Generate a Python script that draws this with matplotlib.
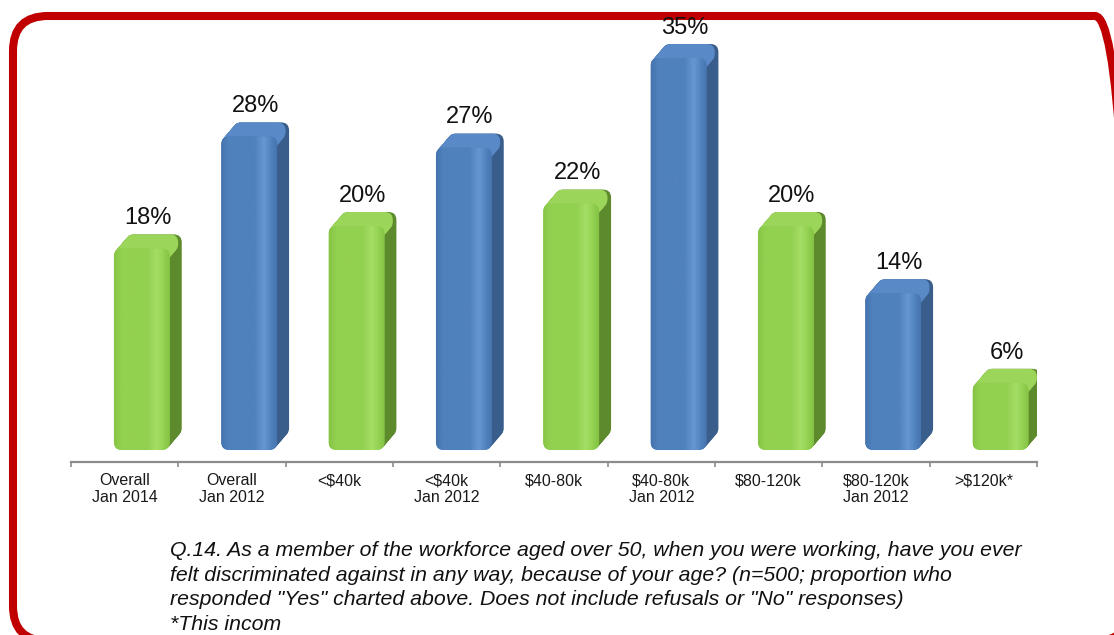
import numpy as np
import matplotlib.pyplot as plt
from matplotlib.patches import FancyBboxPatch
from matplotlib.transforms import IdentityTransform
from matplotlib.colors import to_rgb

plt.rcParams['font.family'] = ['Liberation Sans', 'DejaVu Sans']
plt.rcParams['text.parse_math'] = False

categories = ["Overall\nJan 2014", "Overall\nJan 2012", "<$40k", "<$40k\nJan 2012",
              "$40-80k", "$40-80k\nJan 2012", "$80-120k", "$80-120k\nJan 2012", ">$120k*"]
values = [18, 28, 20, 27, 22, 35, 20, 14, 6]
survey = ["2014", "2012", "2014", "2012", "2014", "2012", "2014", "2012", "2014"]

caption = ("Q.14. As a member of the workforce aged over 50, when you were working, have you ever\n"
           "felt discriminated against in any way, because of your age? (n=500; proportion who\n"
           "responded \"Yes\" charted above. Does not include refusals or \"No\" responses)\n"
           "*This incom")

# front colour stops (left -> right), side colour, top colour
palette = {
    "2014": (["#86C546", "#92D050", "#92D050", "#A5DF66", "#93D152", "#84C244"], "#5E8A2E", "#9BD65A"),
    "2012": (["#4674AE", "#4F81BD", "#4F81BD", "#6797D2", "#5083BF", "#4674AE"], "#3A5E8C", "#5989C6"),
}
stops = [0.0, 0.12, 0.6, 0.77, 0.9, 1.0]

W, H = 1114, 635
fig = plt.figure(figsize=(W / 100, H / 100), dpi=100)

# red rounded frame, in output pixels (origin bottom left)
frame = FancyBboxPatch((13, H - 641), 1117, 625, boxstyle="round,pad=0,rounding_size=35",
                       fc='none', ec='#C00000', lw=5.8, transform=IdentityTransform(), zorder=0)
fig.add_artist(frame)

ax = fig.add_axes([71 / W, 173 / H, 966 / W, 460 / H], zorder=1)
ax.patch.set_alpha(0)
ax.set_xlim(-0.5, len(categories) - 0.5)
ax.set_ylim(-1.07, 40)

xs = np.arange(len(categories))
bars = ax.bar(xs + 0.16, values, width=0.52, color='none', edgecolor='none')

# pixels per data unit
p0 = ax.transData.transform((0, 0))
p1 = ax.transData.transform((1, 1))
px_x, px_y = p1 - p0
aspect = px_x / px_y
r = 8 / px_x
dx, dy = 12 / px_x, 14 / px_y
steps = 14


def rbox(x, y, w, h, **kw):
    return FancyBboxPatch((x, y), w, h, boxstyle=f"round,pad=0,rounding_size={r}",
                          mutation_aspect=aspect, **kw)


for bar, v, s in zip(bars, values, survey):
    fronts, side, top = palette[s]
    x0, w, h = bar.get_x(), bar.get_width(), bar.get_height()

    # extruded body, back to front
    for k in range(steps, 0, -1):
        ax.add_patch(rbox(x0 + dx * k / steps, dy * k / steps, w, h, fc=side, ec='none', zorder=2))
    # top face
    strip = 2.2 * r * aspect
    for k in range(steps, 0, -1):
        ax.add_patch(rbox(x0 + dx * k / steps, h - strip + dy * k / steps, w - 0.3 * dx, strip,
                          fc=top, ec='none', zorder=3))

    # front face with a horizontal shading
    front = rbox(x0, 0, w, h, fc=fronts[1], ec='none', zorder=4)
    ax.add_patch(front)
    f = np.linspace(0, 1, 64)
    grad = np.array([np.interp(f, stops, [to_rgb(c)[i] for c in fronts]) for i in range(3)]).T
    im = ax.imshow(grad[None, :, :], extent=(x0, x0 + w, 0, h), aspect='auto',
                   interpolation='bilinear', zorder=5)
    im.set_clip_path(front)

    ax.annotate(f"{v}%", xy=(x0 + w / 2 + dx / 2, h), xytext=(0, 17.5), textcoords='offset points',
                ha='center', va='baseline', fontsize=17, color='#111111', zorder=6)

ax.set_xlim(-0.5, len(categories) - 0.5)
ax.set_ylim(-1.07, 40)

for side_name in ['left', 'right', 'top']:
    ax.spines[side_name].set_visible(False)
ax.spines['bottom'].set_color('#8C8C8C')
ax.spines['bottom'].set_linewidth(1.6)
ax.set_yticks([])
ax.set_xticks(xs)
ax.set_xticklabels(categories, fontsize=11.5, color='#1A1A1A', linespacing=1.15)
ax.set_xticks(np.arange(-0.5, len(categories)), minor=True)
ax.tick_params(axis='x', which='major', length=0, pad=8)
ax.tick_params(axis='x', which='minor', length=3.6, width=1.2, color='#8C8C8C', direction='out')

fig.text(170 / W, 1 - 541 / H, caption, ha='left', va='top', fontsize=15.3, style='italic',
         color='#111111', linespacing=1.38)

fig.savefig('out.png', dpi=100, facecolor='white')
